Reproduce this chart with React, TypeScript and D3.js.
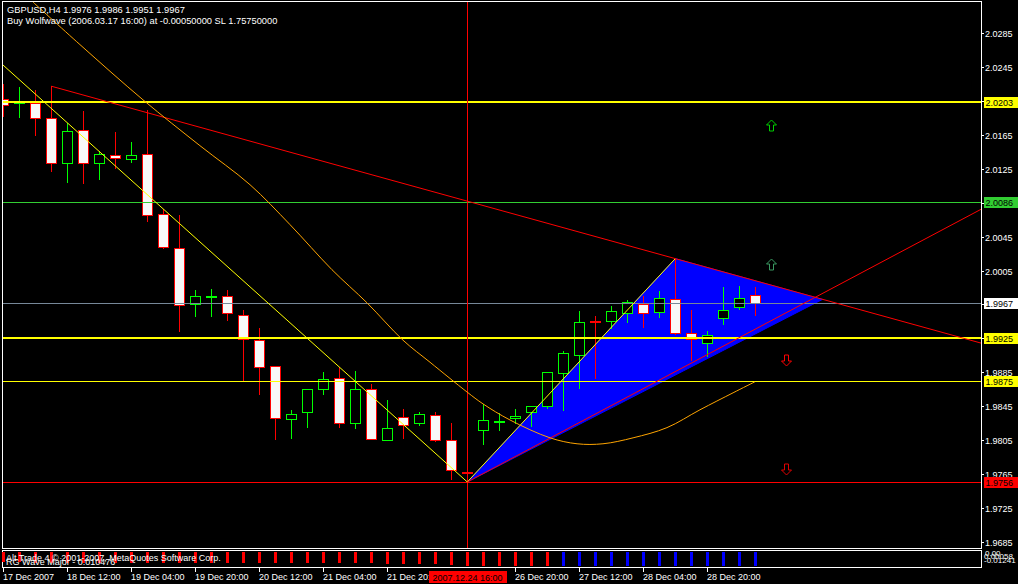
import React from 'react';
import * as d3 from 'd3';

// ---------- DATA ----------
const opens = [2.0207,2.0202,2.0202,2.0185,2.0132,2.0170,2.0131,2.0141,2.0136,2.0142,2.0071,2.0032,1.9966,1.9974,1.9975,1.9953,1.9923,1.9892,1.9830,1.9839,1.9866,1.9879,1.9825,1.9866,1.9806,1.9832,1.9825,1.9835,1.9805,1.9768,1.9817,1.9828,1.9831,1.9838,1.9845,1.9884,1.9906,1.9945,1.9945,1.9955,1.9966,1.9956,1.9972,1.9932,1.9920,1.9949,1.9962,1.9976];
const highs = [2.0225,2.0221,2.0218,2.0222,2.0179,2.0193,2.0146,2.0168,2.0156,2.0194,2.0077,2.0070,1.9982,1.9983,1.9982,1.9959,1.9937,1.9893,1.9841,1.9866,1.9886,1.9891,1.9887,1.9871,1.9853,1.9842,1.9838,1.9838,1.9825,1.9769,1.9848,1.9837,1.9842,1.9846,1.9885,1.9910,1.9957,1.9951,1.9963,1.9970,1.9975,1.9981,2.0019,1.9959,1.9934,1.9986,1.9987,1.9986];
const lows = [2.0186,2.0185,2.0163,2.0121,2.0108,2.0107,2.0112,2.0124,2.0132,2.0062,2.0030,1.9933,1.9950,1.9950,1.9946,1.9875,1.9858,1.9805,1.9807,1.9820,1.9858,1.9819,1.9818,1.9806,1.9805,1.9807,1.9822,1.9803,1.9758,1.9756,1.9799,1.9816,1.9824,1.9821,1.9842,1.9840,1.9866,1.9877,1.9936,1.9943,1.9937,1.9949,1.9929,1.9898,1.9903,1.9941,1.9958,1.9951];
const closes = [2.0200,2.0204,2.0184,2.0132,2.0169,2.0132,2.0142,2.0137,2.0141,2.0070,2.0033,1.9964,1.9975,1.9975,1.9955,1.9924,1.9891,1.9831,1.9836,1.9865,1.9877,1.9825,1.9865,1.9807,1.9819,1.9823,1.9836,1.9805,1.9770,1.9767,1.9829,1.9828,1.9834,1.9845,1.9885,1.9908,1.9944,1.9944,1.9957,1.9968,1.9955,1.9973,1.9931,1.9924,1.9929,1.9959,1.9973,1.9967];

const priceTicks = [1.9685,1.9725,1.9765,1.9805,1.9845,1.9885,1.9925,1.9965,2.0005,2.0045,2.0085,2.0125,2.0165,2.0205,2.0245,2.0285];

const timeTickIdx = [0,4,8,12,16,20,24,32,36,40,44];
const timeLabels = ['17 Dec 2007','18 Dec 12:00','19 Dec 04:00','19 Dec 20:00','20 Dec 12:00','21 Dec 04:00','21 Dec 20:00','26 Dec 20:00','27 Dec 12:00','28 Dec 04:00','28 Dec 20:00'];

const levelPrices = [2.0203, 2.0086, 1.9967, 1.9925, 1.9875, 1.9756];

// trend lines: [barIndex, price]
const yellowLine1 = [[-0.2, 2.0250], [29, 1.9756]];
const yellowLine2 = [[29, 1.9756], [42, 2.0019]];
const redLineTop = [[3, 2.0222], [42, 2.0019]];
const redLineBottom = [[29, 1.9756], [47, 1.9936]];
const wolfTriangle = [[29, 1.9756], [42, 2.0019], [51.2, 1.9971]];

const orangeCurve = [[1.86,2.0321],[4.79,2.0271],[8.73,2.0206],[12.29,2.0152],[15.42,2.0106],[17.92,2.0059],[20.54,2.0006],[22.73,1.9967],[24.98,1.9923],[26.67,1.9897],[28.98,1.9862],[29.98,1.9848],[31.67,1.9829],[34.17,1.9808],[35.86,1.9801],[37.48,1.9801],[39.36,1.9808],[41.48,1.9820],[43.54,1.9841],[45.61,1.9861],[46.98,1.9874]];

const arrowIdx = [48, 48, 48.9, 48.9];
const arrowPrices = [2.0176, 2.0013, 1.9900, 1.9771];
const arrowDirs = ['up', 'up', 'down', 'down'];

const indicatorValues = [-0.0089,-0.0089,-0.0090,-0.0090,-0.0091,-0.0091,-0.0092,-0.0092,-0.0092,-0.0093,-0.0093,-0.0094,-0.0094,-0.0094,-0.0095,-0.0095,-0.0095,-0.0096,-0.0096,-0.0096,-0.0097,-0.0097,-0.0098,-0.0098,-0.0099,-0.0100,-0.0101,-0.0102,-0.0110,-0.0120,-0.0122,-0.0122,-0.0123,-0.0123,-0.0124,-0.0124,-0.0124,-0.0122,-0.0120,-0.0121,-0.0120,-0.0121,-0.0119,-0.0120,-0.0120,-0.0120,-0.0120,-0.0120];
const indicatorUp = [0,0,0,0,0,0,0,0,0,0,0,0,0,0,0,0,0,0,0,0,0,0,0,0,0,0,0,0,0,0,0,0,0,0,0,1,1,1,1,1,1,1,1,1,1,1,1,1];

// ---------- STYLES ----------
const levelStyles = [
  { color: '#ffff00', width: 2, box: '#ffff00' },
  { color: '#32cd32', width: 1, box: '#32cd32' },
  { color: '#778899', width: 1, box: '#ffffff' },
  { color: '#ffff00', width: 2, box: '#ffff00' },
  { color: '#ffff00', width: 1, box: '#ffff00' },
  { color: '#ff0000', width: 1, box: '#ff0000' },
];
const arrowColors = ['#00d000', '#3a9a62', '#ff0000', '#e00000'];

const FONT = 'Liberation Sans, Arial, sans-serif';
const W = 1018, H = 584;
const AX = 981; // right frame / axis x

export default function App() {
  const x = d3.scaleLinear().domain([0, 47]).range([3.3, 755.3]);
  const y = d3.scaleLinear().domain([1.9685, 2.0285]).range([542.3, 32.7]);
  const yi = d3.scaleLinear().domain([-0.01241, 0.00058]).range([566.5, 551.5]);
  const iRight = x.invert(AX + 2);
  const iLeft = x.invert(0);

  const lineAt = (pts: number[][], i: number) =>
    pts[0][1] + ((pts[1][1] - pts[0][1]) * (i - pts[0][0])) / (pts[1][0] - pts[0][0]);

  const fmt = (v: number) => v.toFixed(4);
  const px = (i: number) => Math.round(x(i));

  const orangePath = d3.line<number[]>()
    .x(d => x(d[0]))
    .y(d => y(d[1]))
    .curve(d3.curveCatmullRom)(orangeCurve) || '';

  const triPath = d3.line<number[]>().x(d => x(d[0])).y(d => y(d[1]))(wolfTriangle) + 'Z';

  const arrowPath = (cx: number, cy: number, dir: string) => {
    const s = dir === 'up' ? 1 : -1;
    const pts = [
      [cx, cy - 5.5 * s], [cx + 5, cy - 0.5 * s], [cx + 2, cy - 0.5 * s], [cx + 2, cy + 5.5 * s],
      [cx - 2, cy + 5.5 * s], [cx - 2, cy - 0.5 * s], [cx - 5, cy - 0.5 * s],
    ];
    return 'M' + pts.map(p => p.join(',')).join('L') + 'Z';
  };

  const crossI = 29;
  const crossX = px(crossI) + 0.5;

  return (
    <div style={{ position: 'fixed', left: 0, top: 0 }}>
      <svg width={W} height={H} style={{ display: 'block', background: '#000' }} fontFamily={FONT}>
        <rect x={0} y={0} width={W} height={H} fill="#000" />
        <defs>
          <clipPath id="mainClip">
            <rect x={3} y={2} width={AX - 3} height={546} />
          </clipPath>
        </defs>

        <g clipPath="url(#mainClip)">
          {/* wolfwave triangle */}
          <path d={triPath} fill="#0000ff" stroke="#0000ff" strokeWidth={1} />

          {/* candles */}
          <g shapeRendering="crispEdges">
            {opens.map((o, i) => {
              const c = closes[i];
              const bull = c >= o;
              const col = bull ? '#00ff00' : '#ff0000';
              const cx = px(i);
              const yt = Math.round(y(Math.max(o, c)));
              const yb = Math.round(y(Math.min(o, c)));
              return (
                <g key={i}>
                  <line x1={cx + 0.5} x2={cx + 0.5} y1={Math.round(y(highs[i]))} y2={Math.round(y(lows[i]))} stroke={col} strokeWidth={1} />
                  <rect x={cx - 4.5} y={yt + 0.5} width={10} height={Math.max(yb - yt, 1)} fill={bull ? '#000000' : '#f8f8f8'} stroke={col} strokeWidth={1} />
                </g>
              );
            })}
          </g>

          {/* horizontal levels */}
          <g shapeRendering="crispEdges">
            {levelPrices.map((p, k) => {
              const st = levelStyles[k];
              const yy = Math.round(y(p)) + (st.width === 1 ? 0.5 : 0);
              return <line key={k} x1={2} x2={AX} y1={yy} y2={yy} stroke={st.color} strokeWidth={st.width} />;
            })}
          </g>

          {/* crosshair vertical */}
          <line x1={crossX} x2={crossX} y1={2} y2={548} stroke="#ff0000" strokeWidth={1} shapeRendering="crispEdges" />

          {/* trend lines */}
          <line x1={x(iLeft)} y1={y(lineAt(yellowLine1, iLeft))} x2={x(yellowLine1[1][0])} y2={y(yellowLine1[1][1])} stroke="#ffff00" strokeWidth={1} />
          <line x1={x(yellowLine2[0][0])} y1={y(yellowLine2[0][1])} x2={x(yellowLine2[1][0])} y2={y(yellowLine2[1][1])} stroke="#ffff00" strokeWidth={1} />
          <line x1={x(redLineTop[0][0])} y1={y(redLineTop[0][1])} x2={x(iRight)} y2={y(lineAt(redLineTop, iRight))} stroke="#ff0000" strokeWidth={1} />
          <line x1={x(redLineBottom[0][0])} y1={y(redLineBottom[0][1])} x2={x(iRight)} y2={y(lineAt(redLineBottom, iRight))} stroke="#ff0000" strokeWidth={1} />
          <path d={orangePath} fill="none" stroke="#ffa500" strokeWidth={1} />

          {/* arrows */}
          {arrowIdx.map((ai, k) => (
            <path key={k} d={arrowPath(Math.round(x(ai)) + 0.5, Math.round(y(arrowPrices[k])) + 0.5, arrowDirs[k])} fill="none" stroke={arrowColors[k]} strokeWidth={1} />
          ))}
        </g>

        {/* frames */}
        <g shapeRendering="crispEdges" fill="none" stroke="#ffffff" strokeWidth={1}>
          <rect x={2.5} y={1.5} width={AX - 2.5} height={547} />
          <rect x={2.5} y={550.5} width={AX - 2.5} height={17} />
        </g>

        {/* header */}
        <text x={7} y={13} fill="#ffffff" fontSize={9.3}>GBPUSD,H4  1.9976 1.9986 1.9951 1.9967</text>
        <text x={7} y={23.5} fill="#ffffff" fontSize={9.3}>Buy Wolfwave (2006.03.17 16:00) at -0.00050000 SL 1.75750000</text>

        {/* price axis */}
        <g shapeRendering="crispEdges">
          {priceTicks.map((p, k) => {
            const yy = Math.round(y(p)) + 0.5;
            return (
              <g key={k}>
                <line x1={AX} x2={AX + 3} y1={yy} y2={yy} stroke="#ffffff" />
                <text x={985} y={yy + 3.5} fill="#ffffff" fontSize={9}>{fmt(p)}</text>
              </g>
            );
          })}
          {levelPrices.map((p, k) => {
            const yy = Math.round(y(p));
            return (
              <g key={'l' + k}>
                <rect x={983.5} y={yy - 5} width={34} height={11} fill={levelStyles[k].box} />
                <text x={985.5} y={yy + 4} fill="#000000" fontSize={9}>{fmt(p)}</text>
              </g>
            );
          })}
        </g>

        {/* indicator */}
        <g shapeRendering="crispEdges">
          {indicatorValues.map((v, i) => {
            const cx = px(i);
            const y0 = yi(0);
            return <rect key={i} x={cx - 1} y={y0} width={3} height={yi(v) - y0} fill={indicatorUp[i] ? '#0000ff' : '#ff0000'} />;
          })}
        </g>
        <text x={6} y={561} fill="#ffffff" fontSize={9}>Alt Trade 4 © 2001-2007, MetaQuotes Software Corp.</text>
        <text x={6} y={565} fill="#ffffff" fontSize={9}>RG Wave Major - 0.010476</text>
        <text x={985} y={556} fill="#ffffff" fontSize={8}>0.00</text>
        <text x={984} y={559} fill="#ffffff" fontSize={8}>0.00058</text>
        <text x={984} y={563} fill="#ffffff" fontSize={8}>-0.01241</text>

        {/* time axis */}
        <g shapeRendering="crispEdges">
          {timeTickIdx.map((ti, k) => {
            const xx = px(ti) + 0.5;
            return (
              <g key={k}>
                <line x1={xx} x2={xx} y1={567.5} y2={571.5} stroke="#ffffff" />
                <text x={xx - 0.5} y={580} fill="#ffffff" fontSize={9}>{timeLabels[k]}</text>
              </g>
            );
          })}
          <rect x={crossX - 39} y={571} width={78} height={12} fill="#ff0000" />
          <text x={crossX} y={580.5} fill="#000000" fontSize={9} textAnchor="middle">2007.12.24 16:00</text>
        </g>
      </svg>
    </div>
  );
}
